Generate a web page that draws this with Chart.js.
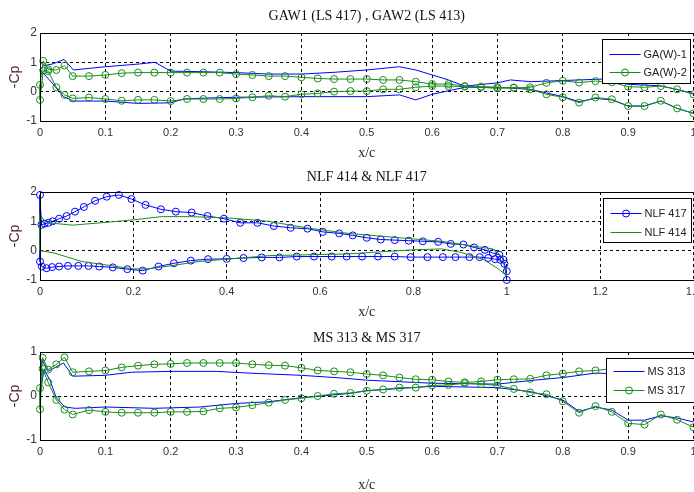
<!DOCTYPE html>
<html>
<head>
<meta charset="utf-8">
<script src="https://cdn.jsdelivr.net/npm/chart.js@4.4.1/dist/chart.umd.min.js"></script>
<style>
  html, body { margin: 0; padding: 0; background: #fff; }
  #wrap { position: relative; width: 694px; height: 492px; overflow: hidden; }
  #wrap canvas { position: absolute; left: 0; }
</style>
</head>
<body>
<div id="wrap">
  <canvas id="gaw" width="698" height="164" style="top:0px"></canvas>
  <canvas id="nlf" width="698" height="162" style="top:164px"></canvas>
  <canvas id="ms" width="698" height="166" style="top:326px"></canvas>
</div>
<script>
// -Cp along the chord, upper and lower surface, leading edge first

// GA(W)-1 (LS 417)
const gaw1UpperX = [0, 0.005, 0.02, 0.037, 0.051, 0.1, 0.15, 0.176, 0.2, 0.25, 0.3, 0.35, 0.4, 0.45, 0.5, 0.55, 0.575, 0.6, 0.625, 0.65, 0.7, 0.72, 0.75, 0.8, 0.85, 0.87, 0.9, 0.95, 1.0];
const gaw1UpperY = [0.75, 0.88, 0.95, 1.1, 0.74, 0.85, 0.94, 1.0, 0.7, 0.68, 0.65, 0.6, 0.6, 0.66, 0.74, 0.85, 0.74, 0.57, 0.4, 0.19, 0.3, 0.4, 0.34, 0.38, 0.42, 0.44, 0.25, 0.2, -0.06];
const gaw1LowerX = [0, 0.02, 0.036, 0.051, 0.1, 0.15, 0.2, 0.22, 0.25, 0.3, 0.4, 0.5, 0.55, 0.575, 0.6, 0.65, 0.7, 0.75, 0.8, 0.825, 0.85, 0.875, 0.9, 0.925, 0.95, 0.975, 1.0];
const gaw1LowerY = [0.75, 0.26, -0.17, -0.32, -0.32, -0.4, -0.38, -0.25, -0.22, -0.19, -0.17, -0.17, -0.11, -0.28, -0.09, 0.15, 0.15, 0.08, -0.17, -0.34, -0.23, -0.28, -0.49, -0.49, -0.32, -0.57, -0.74];

// GA(W)-2 (LS 413), measured stations
const gaw2X = [0, 0.005, 0.0125, 0.025, 0.0375, 0.05, 0.075, 0.1, 0.125, 0.15, 0.175, 0.2, 0.225, 0.25, 0.275, 0.3, 0.325, 0.35, 0.375, 0.4, 0.425, 0.45, 0.475, 0.5, 0.525, 0.55, 0.575, 0.6, 0.625, 0.65, 0.675, 0.7, 0.725, 0.75, 0.775, 0.8, 0.825, 0.85, 0.875, 0.9, 0.925, 0.95, 0.975, 1.0];
const gaw2UpperY = [0.23, 1.05, 0.76, 0.74, 0.89, 0.53, 0.53, 0.57, 0.63, 0.65, 0.65, 0.65, 0.65, 0.65, 0.65, 0.6, 0.57, 0.53, 0.53, 0.49, 0.45, 0.43, 0.43, 0.43, 0.4, 0.4, 0.34, 0.26, 0.26, 0.19, 0.17, 0.15, 0.13, 0.15, 0.3, 0.37, 0.31, 0.36, 0.32, 0.17, 0.15, 0.19, 0.08, -0.09];
const gaw2LowerY = [-0.28, 0.72, 0.7, 0.15, -0.11, -0.23, -0.2, -0.25, -0.31, -0.28, -0.28, -0.32, -0.25, -0.25, -0.25, -0.23, -0.19, -0.14, -0.17, -0.09, -0.06, 0, 0.02, 0.02, 0.08, 0.08, 0.15, 0.19, 0.19, 0.17, 0.15, 0.11, 0.14, 0.08, -0.09, -0.19, -0.375, -0.2, -0.26, -0.49, -0.49, -0.31, -0.57, -0.74];

// NLF 417
const nlf417UpperX = [0, 0.003, 0.01, 0.018, 0.027, 0.041, 0.057, 0.075, 0.094, 0.118, 0.143, 0.169, 0.196, 0.226, 0.259, 0.291, 0.325, 0.359, 0.394, 0.429, 0.466, 0.501, 0.537, 0.573, 0.606, 0.641, 0.67, 0.70, 0.73, 0.76, 0.79, 0.82, 0.853, 0.88, 0.907, 0.93, 0.953, 0.97, 0.984, 0.993, 1.0];
const nlf417UpperY = [1.9, 0.88, 0.92, 0.95, 1.0, 1.09, 1.18, 1.33, 1.49, 1.7, 1.84, 1.9, 1.76, 1.56, 1.41, 1.33, 1.3, 1.18, 1.09, 0.95, 0.95, 0.84, 0.78, 0.75, 0.64, 0.59, 0.52, 0.44, 0.38, 0.36, 0.34, 0.32, 0.3, 0.23, 0.21, 0.11, 0.03, -0.08, -0.14, -0.31, -1.0];
const nlf417LowerX = [0, 0.004, 0.014, 0.026, 0.041, 0.06, 0.082, 0.104, 0.127, 0.156, 0.187, 0.22, 0.254, 0.287, 0.323, 0.36, 0.4, 0.436, 0.475, 0.513, 0.55, 0.587, 0.625, 0.657, 0.69, 0.724, 0.76, 0.794, 0.83, 0.863, 0.89, 0.92, 0.942, 0.96, 0.975, 0.986, 0.995, 1.0];
const nlf417LowerY = [-0.37, -0.54, -0.6, -0.56, -0.54, -0.52, -0.52, -0.52, -0.54, -0.57, -0.63, -0.68, -0.54, -0.43, -0.34, -0.29, -0.28, -0.25, -0.23, -0.23, -0.2, -0.2, -0.2, -0.2, -0.2, -0.2, -0.2, -0.22, -0.22, -0.22, -0.22, -0.22, -0.22, -0.25, -0.29, -0.31, -0.45, -0.7];

// NLF 414
const nlf414UpperX = [0, 0.01, 0.03, 0.07, 0.13, 0.2, 0.26, 0.32, 0.4, 0.49, 0.57, 0.66, 0.8, 0.86, 0.93, 0.97, 0.99, 1.0];
const nlf414UpperY = [1.24, 1.0, 0.93, 0.87, 0.95, 1.05, 1.16, 1.16, 1.12, 1.0, 0.78, 0.59, 0.4, 0.32, 0.15, 0.06, -0.2, -0.83];
const nlf414LowerX = [0, 0.03, 0.09, 0.2, 0.23, 0.27, 0.34, 0.4, 0.49, 0.66, 0.8, 0.86, 0.9, 0.95, 0.98, 1.0];
const nlf414LowerY = [0, -0.08, -0.37, -0.62, -0.62, -0.54, -0.37, -0.29, -0.17, -0.11, 0.03, 0.06, -0.05, -0.3, -0.6, -0.85];

// MS 313
const ms313UpperX = [0, 0.003, 0.012, 0.036, 0.05, 0.1, 0.14, 0.2, 0.27, 0.32, 0.4, 0.46, 0.5, 0.6, 0.7, 0.75, 0.8, 0.85, 0.9, 0.95, 1.0];
const ms313UpperY = [0.0, 0.83, 0.56, 0.75, 0.45, 0.47, 0.54, 0.56, 0.56, 0.52, 0.47, 0.41, 0.36, 0.29, 0.27, 0.35, 0.42, 0.52, 0.5, 0.35, 0.0];
const ms313LowerX = [0, 0.006, 0.015, 0.025, 0.038, 0.054, 0.1, 0.175, 0.245, 0.3, 0.35, 0.4, 0.475, 0.5, 0.6, 0.7, 0.75, 0.8, 0.825, 0.85, 0.875, 0.9, 0.925, 0.95, 0.975, 1.0];
const ms313LowerY = [0.0, 0.6, 0.37, -0.04, -0.25, -0.28, -0.25, -0.28, -0.25, -0.17, -0.13, -0.04, 0.06, 0.12, 0.22, 0.19, 0.1, -0.09, -0.35, -0.25, -0.32, -0.55, -0.55, -0.45, -0.5, -0.59];

// MS 317, measured stations
const ms317X = [0, 0.004, 0.0125, 0.025, 0.0375, 0.05, 0.075, 0.1, 0.125, 0.15, 0.175, 0.2, 0.225, 0.25, 0.275, 0.3, 0.325, 0.35, 0.375, 0.4, 0.425, 0.45, 0.475, 0.5, 0.525, 0.55, 0.575, 0.6, 0.625, 0.65, 0.675, 0.7, 0.725, 0.75, 0.775, 0.8, 0.825, 0.85, 0.875, 0.9, 0.925, 0.95, 0.975, 1.0];
const ms317UpperY = [0.18, 0.87, 0.6, 0.72, 0.88, 0.54, 0.56, 0.58, 0.65, 0.69, 0.72, 0.73, 0.75, 0.75, 0.75, 0.75, 0.72, 0.7, 0.69, 0.64, 0.58, 0.56, 0.54, 0.5, 0.47, 0.42, 0.38, 0.37, 0.33, 0.31, 0.33, 0.37, 0.38, 0.39, 0.47, 0.51, 0.56, 0.58, 0.62, 0.62, 0.55, 0.42, 0.22, -0.04];
const ms317LowerY = [-0.3, 0.62, 0.31, -0.09, -0.31, -0.42, -0.32, -0.36, -0.38, -0.38, -0.38, -0.36, -0.36, -0.35, -0.28, -0.26, -0.21, -0.15, -0.09, -0.05, 0, 0.05, 0.07, 0.12, 0.15, 0.19, 0.19, 0.24, 0.25, 0.29, 0.27, 0.24, 0.16, 0.08, 0.04, -0.12, -0.38, -0.23, -0.36, -0.62, -0.65, -0.42, -0.54, -0.71];

const BLUE = '#0000ff';
const GREEN = '#1a8c1a';
const SANS = "'Liberation Sans', Arial, sans-serif";
const SERIF = "'Liberation Serif', 'Times New Roman', serif";

// trailing edge -> upper surface -> leading edge -> lower surface -> trailing edge
function surfaceLoop(upperX, upperY, lowerX, lowerY) {
    let pts = [];
    for (let i = upperX.length - 1; i >= 0; i--) pts.push({ x: upperX[i], y: upperY[i] });
    for (let i = 0; i < lowerX.length; i++) pts.push({ x: lowerX[i], y: lowerY[i] });
    return pts;
}

function cpSet(label, color, data, marker, order) {
    return {
        label: label,
        data: data,
        showLine: true,
        borderColor: color,
        borderWidth: 1,
        tension: 0,
        clip: false,
        order: order,
        pointRadius: marker ? 3.5 : 0,
        pointHoverRadius: marker ? 3.5 : 0,
        pointStyle: 'circle',
        pointBorderColor: color,
        pointBackgroundColor: 'rgba(0,0,0,0)',
        pointBorderWidth: 1
    };
}

// closed axes box like the old matlab figures
const frame = {
    id: 'frame',
    afterDatasetsDraw(chart) {
        let a = chart.chartArea;
        let ctx = chart.ctx;
        ctx.save();
        ctx.strokeStyle = '#000';
        ctx.lineWidth = 1;
        ctx.strokeRect(Math.round(a.left) + 0.5, Math.round(a.top) + 0.5, Math.round(a.width), Math.round(a.height));
        ctx.restore();
    }
};

// legend drawn as a white boxed inset in the top right corner
const boxLegend = {
    id: 'boxLegend',
    afterDraw(chart, args, opts) {
        let a = chart.chartArea;
        let ctx = chart.ctx;
        let w = 88, h = 44;
        let x = Math.round(a.right - opts.right - w) + 0.5;
        let y = Math.round(a.top + opts.top) + 0.5;
        ctx.save();
        ctx.fillStyle = '#fff';
        ctx.fillRect(x, y, w, h);
        ctx.strokeStyle = '#000';
        ctx.lineWidth = 1;
        ctx.strokeRect(x, y, w, h);
        chart.data.datasets.forEach(function(ds, i) {
            let cy = Math.round(y + opts.rows[i]) + 0.5;
            ctx.strokeStyle = ds.borderColor;
            ctx.beginPath();
            ctx.moveTo(x + 7, cy);
            ctx.lineTo(x + 38, cy);
            ctx.stroke();
            if (ds.pointRadius > 0) {
                ctx.beginPath();
                ctx.arc(x + 22.5, cy, ds.pointRadius, 0, Math.PI * 2);
                ctx.stroke();
            }
            ctx.fillStyle = '#222';
            ctx.font = '11px ' + SANS;
            ctx.textAlign = 'left';
            ctx.textBaseline = 'middle';
            ctx.fillText(ds.label, x + 41, cy);
        });
        ctx.restore();
    }
};

function tickText(v) {
    return String(Number(v.toFixed(1)));
}

function cpChart(id, o) {
    return new Chart(document.getElementById(id), {
        type: 'scatter',
        data: { datasets: o.datasets },
        options: {
            responsive: false,
            animation: false,
            events: [],
            layout: { padding: 0 },
            plugins: {
                legend: { display: false },
                tooltip: { enabled: false },
                title: {
                    display: true,
                    fullSize: false,
                    text: o.title,
                    color: '#111',
                    font: { family: SERIF, size: 14, weight: 'normal', lineHeight: 1 },
                    padding: { top: o.titlePad[0], bottom: o.titlePad[1] }
                },
                boxLegend: { top: 6, right: o.legendRight, rows: o.legendRows }
            },
            scales: {
                x: {
                    type: 'linear',
                    min: 0,
                    max: o.xMax,
                    grid: { color: '#000', lineWidth: 1, drawTicks: false },
                    border: { display: false, dash: [3, 3] },
                    ticks: {
                        stepSize: o.xStep,
                        autoSkip: false,
                        maxRotation: 0,
                        padding: 5,
                        color: '#333',
                        font: { family: SANS, size: 11 },
                        callback: tickText
                    },
                    title: {
                        display: true,
                        text: 'x/c',
                        color: '#222',
                        font: { family: SERIF, size: 14, lineHeight: 1 },
                        padding: { top: 0, bottom: o.xTitlePad }
                    },
                    afterFit: function(s) {
                        s.height = o.xAxisHeight;
                        s.paddingLeft = 0;
                        s.paddingRight = 0;
                    }
                },
                y: {
                    type: 'linear',
                    min: o.yMin,
                    max: o.yMax,
                    grid: { color: '#000', lineWidth: 1, drawTicks: false },
                    border: { display: false, dash: [3, 3] },
                    ticks: {
                        stepSize: 1,
                        padding: 3,
                        color: '#333',
                        font: { family: SANS, size: 12 },
                        callback: tickText
                    },
                    title: {
                        display: true,
                        text: '-Cp',
                        color: '#4d2b2b',
                        font: { family: SANS, size: 14, lineHeight: 1 },
                        padding: { top: 8, bottom: 0 }
                    },
                    afterFit: function(s) {
                        s.width = 40;
                        s.paddingTop = 0;
                        s.paddingBottom = 0;
                    }
                }
            }
        },
        plugins: [frame, boxLegend]
    });
}

cpChart('gaw', {
    title: 'GAW1 (LS 417) , GAW2 (LS 413)',
    titlePad: [9, 10],
    xMax: 1, xStep: 0.1, yMin: -1, yMax: 2,
    xAxisHeight: 43, xTitlePad: 4,
    legendRight: 4, legendRows: [14, 32],
    datasets: [
        cpSet('GA(W)-1', BLUE, surfaceLoop(gaw1UpperX, gaw1UpperY, gaw1LowerX, gaw1LowerY), false, 1),
        cpSet('GA(W)-2', GREEN, surfaceLoop(gaw2X, gaw2UpperY, gaw2X, gaw2LowerY), true, 0)
    ]
});

cpChart('nlf', {
    title: 'NLF 414 & NLF 417',
    titlePad: [6, 8],
    xMax: 1.4, xStep: 0.2, yMin: -1, yMax: 2,
    xAxisHeight: 46, xTitlePad: 7,
    legendRight: 3, legendRows: [14, 33],
    datasets: [
        cpSet('NLF 417', BLUE, surfaceLoop(nlf417UpperX, nlf417UpperY, nlf417LowerX, nlf417LowerY), true, 1),
        cpSet('NLF 414', GREEN, surfaceLoop(nlf414UpperX, nlf414UpperY, nlf414LowerX, nlf414LowerY), false, 0)
    ]
});

cpChart('ms', {
    title: 'MS 313 & MS 317',
    titlePad: [5, 7],
    xMax: 1, xStep: 0.1, yMin: -1, yMax: 1,
    xAxisHeight: 52, xTitlePad: 0,
    legendRight: 0, legendRows: [12, 31],
    datasets: [
        cpSet('MS 313', BLUE, surfaceLoop(ms313UpperX, ms313UpperY, ms313LowerX, ms313LowerY), false, 1),
        cpSet('MS 317', GREEN, surfaceLoop(ms317X, ms317UpperY, ms317X, ms317LowerY), true, 0)
    ]
});
</script>
</body>
</html>
